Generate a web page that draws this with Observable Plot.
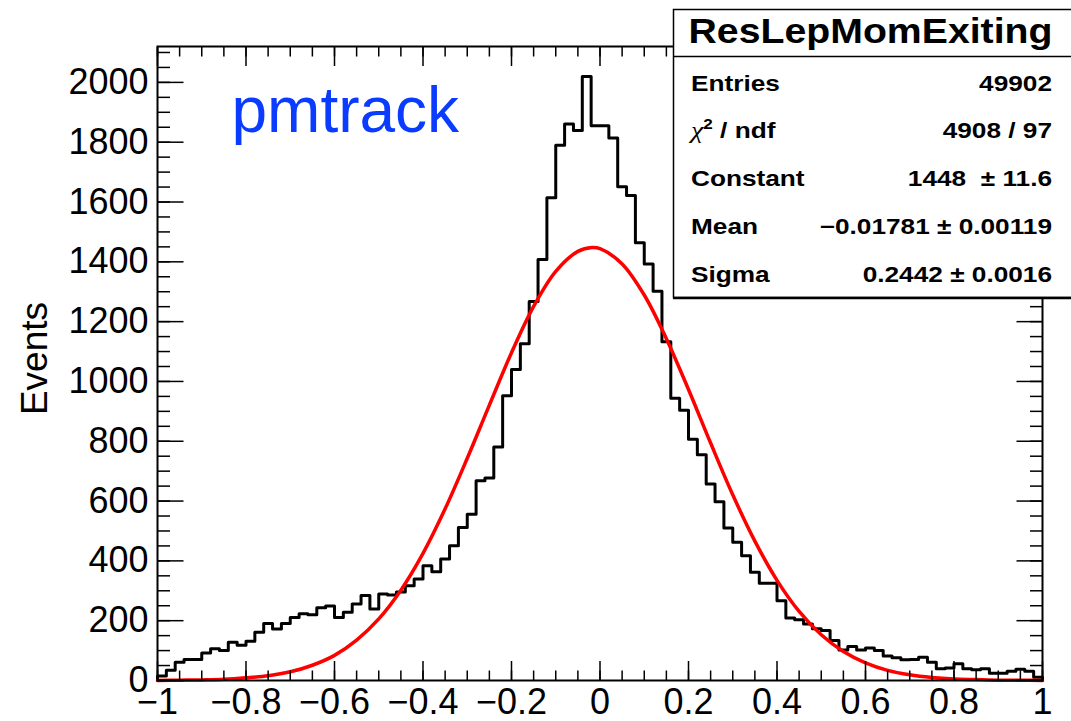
<!DOCTYPE html>
<html><head><meta charset="utf-8">
<script src="https://cdn.jsdelivr.net/npm/d3@7"></script>
<script src="https://cdn.jsdelivr.net/npm/@observablehq/plot@0.6"></script>
<style>
html,body{margin:0;padding:0;background:#fff;}
#chart{position:relative;width:1071px;height:721px;overflow:hidden;}
</style></head><body><div id="chart"></div>
<script>
// ---------------- data ----------------
const binLow = -1;
const binWidth = 0.02;
const binCounts = [
  15, 34, 61, 70, 70, 92, 106, 100, 128, 118,
  131, 161, 191, 172, 191, 211, 223, 220, 243, 249,
  211, 228, 256, 284, 239, 289, 286, 296, 317, 339,
  384, 364, 406, 451, 512, 556, 668, 677, 781, 952,
  1040, 1126, 1267, 1408, 1614, 1790, 1861, 1839, 2020, 1855,
  1855, 1814, 1651, 1622, 1464, 1393, 1302, 1133, 944, 904,
  807, 755, 657, 598, 510, 462, 417, 362, 325, 325,
  267, 209, 203, 189, 173, 167, 134, 102, 114, 102,
  109, 100, 82, 76, 69, 70, 78, 61, 39, 42,
  56, 39, 36, 39, 24, 24, 31, 38, 31, 11
];
const fitX = [-1,-0.95,-0.9,-0.85,-0.8,-0.75,-0.7,-0.65,-0.6,-0.55,-0.5,-0.45,-0.4,-0.35,-0.3,-0.25,-0.2,-0.15,-0.1,-0.05,-0.018,0,0.05,0.1,0.15,0.2,0.25,0.3,0.35,0.4,0.45,0.5,0.55,0.6,0.65,0.7,0.75,0.8,0.85,0.9,0.95,1];
const fitY = [0,1,2,4,9,16,29,51,84,135,206,302,425,574,743,921,1096,1251,1368,1435,1448,1444,1393,1289,1143,973,794,621,466,335,231,153,97,59,34,19,10,5,3,1,1,0];
const xMajorTicks = [-1,-0.8,-0.6,-0.4,-0.2,0,0.2,0.4,0.6,0.8,1];
const xMinorTicks = [-1,-0.95,-0.9,-0.85,-0.8,-0.75,-0.7,-0.65,-0.6,-0.55,-0.5,-0.45,-0.4,-0.35,-0.3,-0.25,-0.2,-0.15,-0.1,-0.05,0,0.05,0.1,0.15,0.2,0.25,0.3,0.35,0.4,0.45,0.5,0.55,0.6,0.65,0.7,0.75,0.8,0.85,0.9,0.95,1];
const yMajorTicks = [0,200,400,600,800,1000,1200,1400,1600,1800,2000];
const yMinorTicks = d3.range(0, 2101, 50);
const yLabel = "Events";
const tagLabel = "pmtrack";
const histTitle = "ResLepMomExiting";
const statLabels = ["Entries", "χ2 / ndf", "Constant", "Mean", "Sigma"];
const statValues = ["49902", "4908 / 97", "1448  ± 11.6", "−0.01781 ± 0.00119", "0.2442 ± 0.0016"];

// ---------------- build ----------------
const histPts = [{x: binLow, y: 0}]
  .concat(binCounts.map((v, i) => ({x: binLow + i * binWidth, y: v})))
  .concat([{x: binLow + binCounts.length * binWidth, y: binCounts[binCounts.length - 1]},
           {x: binLow + binCounts.length * binWidth, y: 0}]);
const fitPts = fitX.map((x, i) => ({x, y: fitY[i]}));

const font = "'Liberation Sans', Helvetica, Arial, sans-serif";
const fmtX = d => d === 0 ? "0" : (d < 0 ? "−" : "") + String(Math.abs(d));

const tickCommon = {fill: "none", label: null, strokeWidth: 1.5};
const chart = Plot.plot({
  width: 1071,
  height: 721,
  marginLeft: 157,
  marginRight: 29,
  marginTop: 46,
  marginBottom: 41,
  style: {fontFamily: font, fontSize: "36px", background: "white", color: "black", overflow: "visible"},
  x: {domain: [-1, 1]},
  y: {domain: [0, 2120]},
  marks: [
    Plot.line(histPts, {x: "x", y: "y", curve: "step-after", stroke: "black", strokeWidth: 3}),
    Plot.line(fitPts, {x: "x", y: "y", curve: "catmull-rom", stroke: "#ff0000", strokeWidth: 3.5}),
    // ticks (inward, on all four sides)
    Plot.axisX({anchor: "bottom", ticks: xMinorTicks, tickSize: -9.5, ...tickCommon}),
    Plot.axisX({anchor: "bottom", ticks: xMajorTicks, tickSize: -19, ...tickCommon}),
    Plot.axisX({anchor: "top", ticks: xMinorTicks, tickSize: -9.5, ...tickCommon}),
    Plot.axisX({anchor: "top", ticks: xMajorTicks, tickSize: -19, ...tickCommon}),
    Plot.axisY({anchor: "left", ticks: yMinorTicks, tickSize: -13, ...tickCommon}),
    Plot.axisY({anchor: "left", ticks: yMajorTicks, tickSize: -26.5, ...tickCommon}),
    Plot.axisY({anchor: "right", ticks: yMinorTicks, tickSize: -13, ...tickCommon}),
    Plot.axisY({anchor: "right", ticks: yMajorTicks, tickSize: -26.5, ...tickCommon}),
    // tick labels
    Plot.axisX({anchor: "bottom", ticks: xMajorTicks, tickSize: 0, tickPadding: 8, tickFormat: fmtX, label: null, fontSize: 36, fill: "black"}),
    Plot.axisY({anchor: "left", ticks: yMajorTicks, tickSize: 0, tickPadding: 9, tickFormat: d => String(d), label: null, fontSize: 36, fill: "black"}),
    Plot.frame({stroke: "black", strokeWidth: 2}),
    Plot.text([yLabel], {text: d => d, frameAnchor: "left", rotate: -90, dx: -122, dy: -5, fontSize: 37, fill: "black", textAnchor: "middle"}),
    Plot.text([tagLabel], {text: d => d, frameAnchor: "top-left", dx: 74, dy: 40, lineAnchor: "top", textAnchor: "start", fontSize: 64, fill: "#0a3cff"})
  ]
});
document.getElementById("chart").appendChild(chart);

// ---------------- stats box (ROOT TPaveStats) ----------------
const svg = d3.select(chart);
const box = svg.append("g").attr("font-family", font).attr("fill", "black");
box.append("rect").attr("x", 673.5).attr("y", 9.5).attr("width", 420).attr("height", 288)
  .attr("fill", "white").attr("stroke", "black").attr("stroke-width", 1.5);
box.append("line").attr("x1", 673).attr("x2", 1080).attr("y1", 298).attr("y2", 298)
  .attr("stroke", "black").attr("stroke-width", 2.5);
box.append("line").attr("x1", 673).attr("x2", 1080).attr("y1", 56.5).attr("y2", 56.5)
  .attr("stroke", "black").attr("stroke-width", 1.5);
box.append("text").attr("transform", "translate(870.5,42.5) scale(1.09,1)")
  .attr("text-anchor", "middle").attr("font-weight", "bold").attr("font-size", 36).text(histTitle);
statLabels.forEach((lab, i) => {
  const y = 90.5 + i * 47.8;
  const t = box.append("text").attr("transform", `translate(691,${y}) scale(1.22,1)`)
    .attr("text-anchor", "start").attr("font-weight", "bold").attr("font-size", 21.5);
  if (lab.startsWith("χ2")) {
    t.append("tspan").attr("font-weight", "normal").attr("font-style", "italic")
      .attr("font-family", "'Liberation Serif', 'DejaVu Serif', serif").attr("font-size", 23).text("χ");
    t.append("tspan").attr("font-size", 14).attr("dy", -9).text("2");
    t.append("tspan").attr("dy", 9).text(lab.slice(2));
  } else {
    t.text(lab);
  }
  box.append("text").attr("transform", `translate(1052,${y}) scale(1.22,1)`)
    .attr("text-anchor", "end").attr("font-weight", "bold").attr("font-size", 21.5)
    .attr("xml:space", "preserve").style("white-space", "pre").text(statValues[i]);
});
</script>
</body></html>
